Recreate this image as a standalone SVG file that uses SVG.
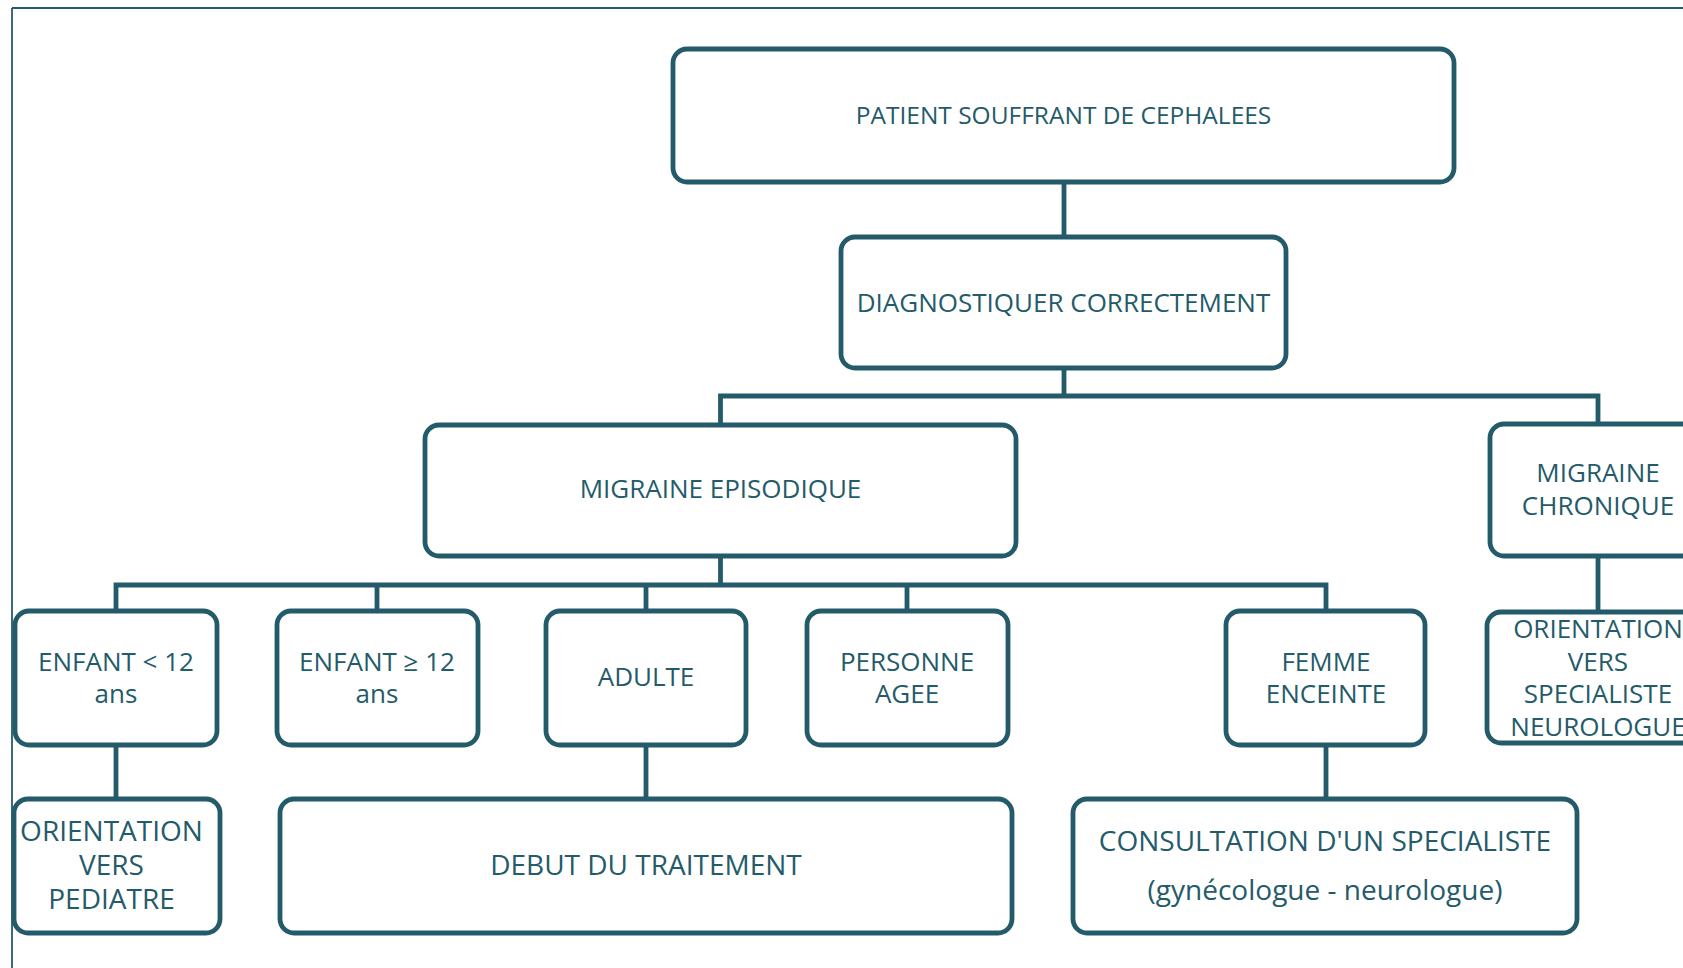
<svg xmlns="http://www.w3.org/2000/svg" width="1683" height="968" viewBox="0 0 1683 968">
<style>
.box{fill:#ffffff;stroke:#245b6a;stroke-width:4.8}
.ln{fill:none;stroke:#245b6a;stroke-width:4.8}
.frame{fill:none;stroke:#245b6a;stroke-width:1.8}
text{font-family:"Open Sans","Noto Sans",sans-serif;fill:#245b6a;text-anchor:middle;font-size:26px}
.lg{font-size:28px}
</style>
<rect width="1683" height="968" fill="#ffffff"/>
<g id="frame">
<line class="frame" x1="12" y1="8" x2="1683" y2="8"/>
<line class="frame" x1="12" y1="8" x2="12" y2="968"/>
</g>
<g id="connectors">
<line class="ln" x1="1064" y1="182" x2="1064" y2="238"/>
<line class="ln" x1="1064" y1="368" x2="1064" y2="396"/>
<polyline class="ln" points="720.5,426 720.5,396 1598,396 1598,424"/>
<line class="ln" x1="720.5" y1="556" x2="720.5" y2="585"/>
<polyline class="ln" points="116,611 116,585 1326,585 1326,611"/>
<line class="ln" x1="377" y1="585" x2="377" y2="611"/>
<line class="ln" x1="646" y1="585" x2="646" y2="611"/>
<line class="ln" x1="907" y1="585" x2="907" y2="611"/>
<line class="ln" x1="1598" y1="556" x2="1598" y2="612"/>
<line class="ln" x1="116" y1="745" x2="116" y2="799"/>
<line class="ln" x1="646" y1="745" x2="646" y2="799"/>
<line class="ln" x1="1326" y1="745" x2="1326" y2="799"/>
</g>
<g id="patient">
<rect class="box" x="673" y="49" width="781" height="133" rx="14"/>
<text x="1063.5" y="124" style="font-size:24.5px">PATIENT SOUFFRANT DE CEPHALEES</text>
</g>
<g id="diagnostiquer">
<rect class="box" x="841" y="237" width="445" height="131" rx="14"/>
<text x="1063.5" y="312">DIAGNOSTIQUER CORRECTEMENT</text>
</g>
<g id="episodique">
<rect class="box" x="425" y="425" width="591" height="131" rx="14"/>
<text x="720.5" y="498">MIGRAINE EPISODIQUE</text>
</g>
<g id="chronique">
<rect class="box" x="1490" y="424" width="216" height="132" rx="14"/>
<text x="1598" y="482">MIGRAINE</text>
<text x="1598" y="515">CHRONIQUE</text>
</g>
<g id="neurologue">
<rect class="box" x="1487" y="612" width="222" height="131" rx="14"/>
<text x="1598" y="638">ORIENTATION</text>
<text x="1598" y="671">VERS</text>
<text x="1598" y="703">SPECIALISTE</text>
<text x="1598" y="736">NEUROLOGUE</text>
</g>
<g id="enfant-moins-12">
<rect class="box" x="15" y="611" width="202" height="134" rx="14"/>
<text x="116" y="671">ENFANT &lt; 12</text>
<text x="116" y="703">ans</text>
</g>
<g id="enfant-plus-12">
<rect class="box" x="277" y="611" width="201" height="134" rx="14"/>
<text x="377" y="671">ENFANT ≥ 12</text>
<text x="377" y="703">ans</text>
</g>
<g id="adulte">
<rect class="box" x="546" y="611" width="200" height="134" rx="14"/>
<text x="646" y="686">ADULTE</text>
</g>
<g id="personne-agee">
<rect class="box" x="807" y="611" width="201" height="134" rx="14"/>
<text x="907" y="671">PERSONNE</text>
<text x="907" y="703">AGEE</text>
</g>
<g id="femme-enceinte">
<rect class="box" x="1226" y="611" width="199" height="134" rx="14"/>
<text x="1326" y="671">FEMME</text>
<text x="1326" y="703">ENCEINTE</text>
</g>
<g id="pediatre">
<rect class="box" x="14" y="799" width="206" height="134" rx="14"/>
<text class="lg" x="111.5" y="841">ORIENTATION</text>
<text class="lg" x="111.5" y="875">VERS</text>
<text class="lg" x="111.5" y="909">PEDIATRE</text>
</g>
<g id="traitement">
<rect class="box" x="280" y="799" width="732" height="134" rx="14"/>
<text class="lg" x="646" y="875">DEBUT DU TRAITEMENT</text>
</g>
<g id="consultation">
<rect class="box" x="1073" y="799" width="504" height="134" rx="14"/>
<text class="lg" x="1325" y="851">CONSULTATION D'UN SPECIALISTE</text>
<text class="lg" x="1325" y="900">(gynécologue - neurologue)</text>
</g>
</svg>
